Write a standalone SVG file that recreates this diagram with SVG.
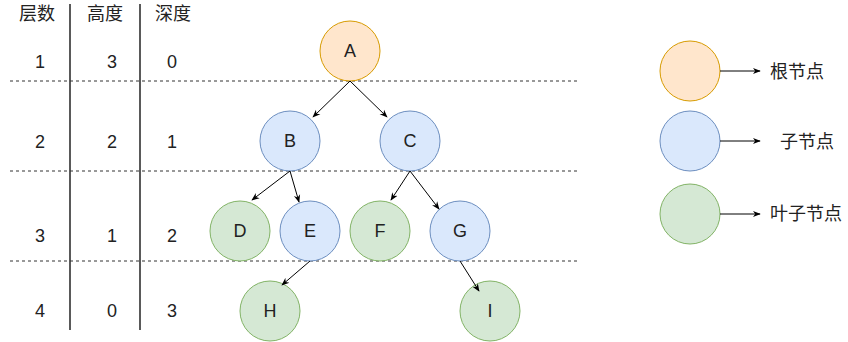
<svg xmlns="http://www.w3.org/2000/svg" width="848" height="342" viewBox="0 0 848 342">
<style>
text{font-family:"Liberation Sans","Noto Sans CJK SC",Arial,sans-serif;font-size:18px;fill:#222;text-anchor:middle;dominant-baseline:central}
.root{fill:#ffe6cc;stroke:#d79b00}
.child{fill:#dae8fc;stroke:#6c8ebf}
.leaf{fill:#d5e8d4;stroke:#82b366}
.dash{stroke:#333;stroke-dasharray:3 3;fill:none}
.vline{stroke:#000;stroke-width:1.3;fill:none}
.edge{stroke:#000;fill:none;marker-end:url(#arr)}
</style>
<defs>
<marker id="arr" viewBox="0 0 10 10" refX="9" refY="5" markerWidth="8" markerHeight="8" markerUnits="userSpaceOnUse" orient="auto">
<path d="M0,1 L10,5 L0,9 L3,5 Z" fill="#000"/>
</marker>
</defs>
<g id="table">
<line class="vline" x1="70" y1="4" x2="70" y2="330"/>
<line class="vline" x1="140" y1="4" x2="140" y2="330"/>
<line class="dash" x1="10" y1="81" x2="580" y2="81"/>
<line class="dash" x1="10" y1="171" x2="580" y2="171"/>
<line class="dash" x1="10" y1="261" x2="580" y2="261"/>
<text x="37" y="14">层数</text>
<text x="105" y="14">高度</text>
<text x="173" y="14">深度</text>
<text x="40" y="62">1</text><text x="112" y="62">3</text><text x="172" y="62">0</text>
<text x="40" y="142">2</text><text x="112" y="142">2</text><text x="172" y="142">1</text>
<text x="40" y="236">3</text><text x="112" y="236">1</text><text x="172" y="236">2</text>
<text x="40" y="311">4</text><text x="112" y="311">0</text><text x="172" y="311">3</text>
</g>
<g id="A"><circle class="root" cx="350" cy="51" r="30"/><text x="350" y="51">A</text></g>
<g id="B"><circle class="child" cx="290" cy="141" r="30"/><text x="290" y="141">B</text></g>
<g id="C"><circle class="child" cx="410" cy="141" r="30"/><text x="410" y="141">C</text></g>
<g id="D"><circle class="leaf" cx="240" cy="231" r="30"/><text x="240" y="231">D</text></g>
<g id="E"><circle class="child" cx="310" cy="231" r="30"/><text x="310" y="231">E</text></g>
<g id="F"><circle class="leaf" cx="380" cy="231" r="30"/><text x="380" y="231">F</text></g>
<g id="G"><circle class="child" cx="460" cy="231" r="30"/><text x="460" y="231">G</text></g>
<g id="H"><circle class="leaf" cx="270" cy="311" r="30"/><text x="270" y="311">H</text></g>
<g id="I"><circle class="leaf" cx="490" cy="311" r="30"/><text x="490" y="311">I</text></g>
<g id="legend-root"><circle class="root" cx="690" cy="71" r="30"/><text x="797" y="72">根节点</text></g>
<g id="legend-child"><circle class="child" cx="690" cy="141" r="30"/><text x="807" y="142">子节点</text></g>
<g id="legend-leaf"><circle class="leaf" cx="690" cy="214" r="30"/><text x="806" y="214">叶子节点</text></g>
<g id="connectors">
<line class="edge" x1="350" y1="81" x2="313" y2="117"/>
<line class="edge" x1="350" y1="81" x2="387" y2="117"/>
<line class="edge" x1="290" y1="171" x2="252" y2="200"/>
<line class="edge" x1="290" y1="171" x2="299" y2="202"/>
<line class="edge" x1="410" y1="171" x2="391" y2="200"/>
<line class="edge" x1="410" y1="171" x2="439" y2="209"/>
<line class="edge" x1="310" y1="261" x2="282" y2="285"/>
<line class="edge" x1="460" y1="261" x2="479" y2="291"/>
<line class="edge" x1="720" y1="71" x2="760" y2="71"/>
<line class="edge" x1="720" y1="141" x2="760" y2="141"/>
<line class="edge" x1="720" y1="214" x2="760" y2="214"/>
</g>
</svg>
